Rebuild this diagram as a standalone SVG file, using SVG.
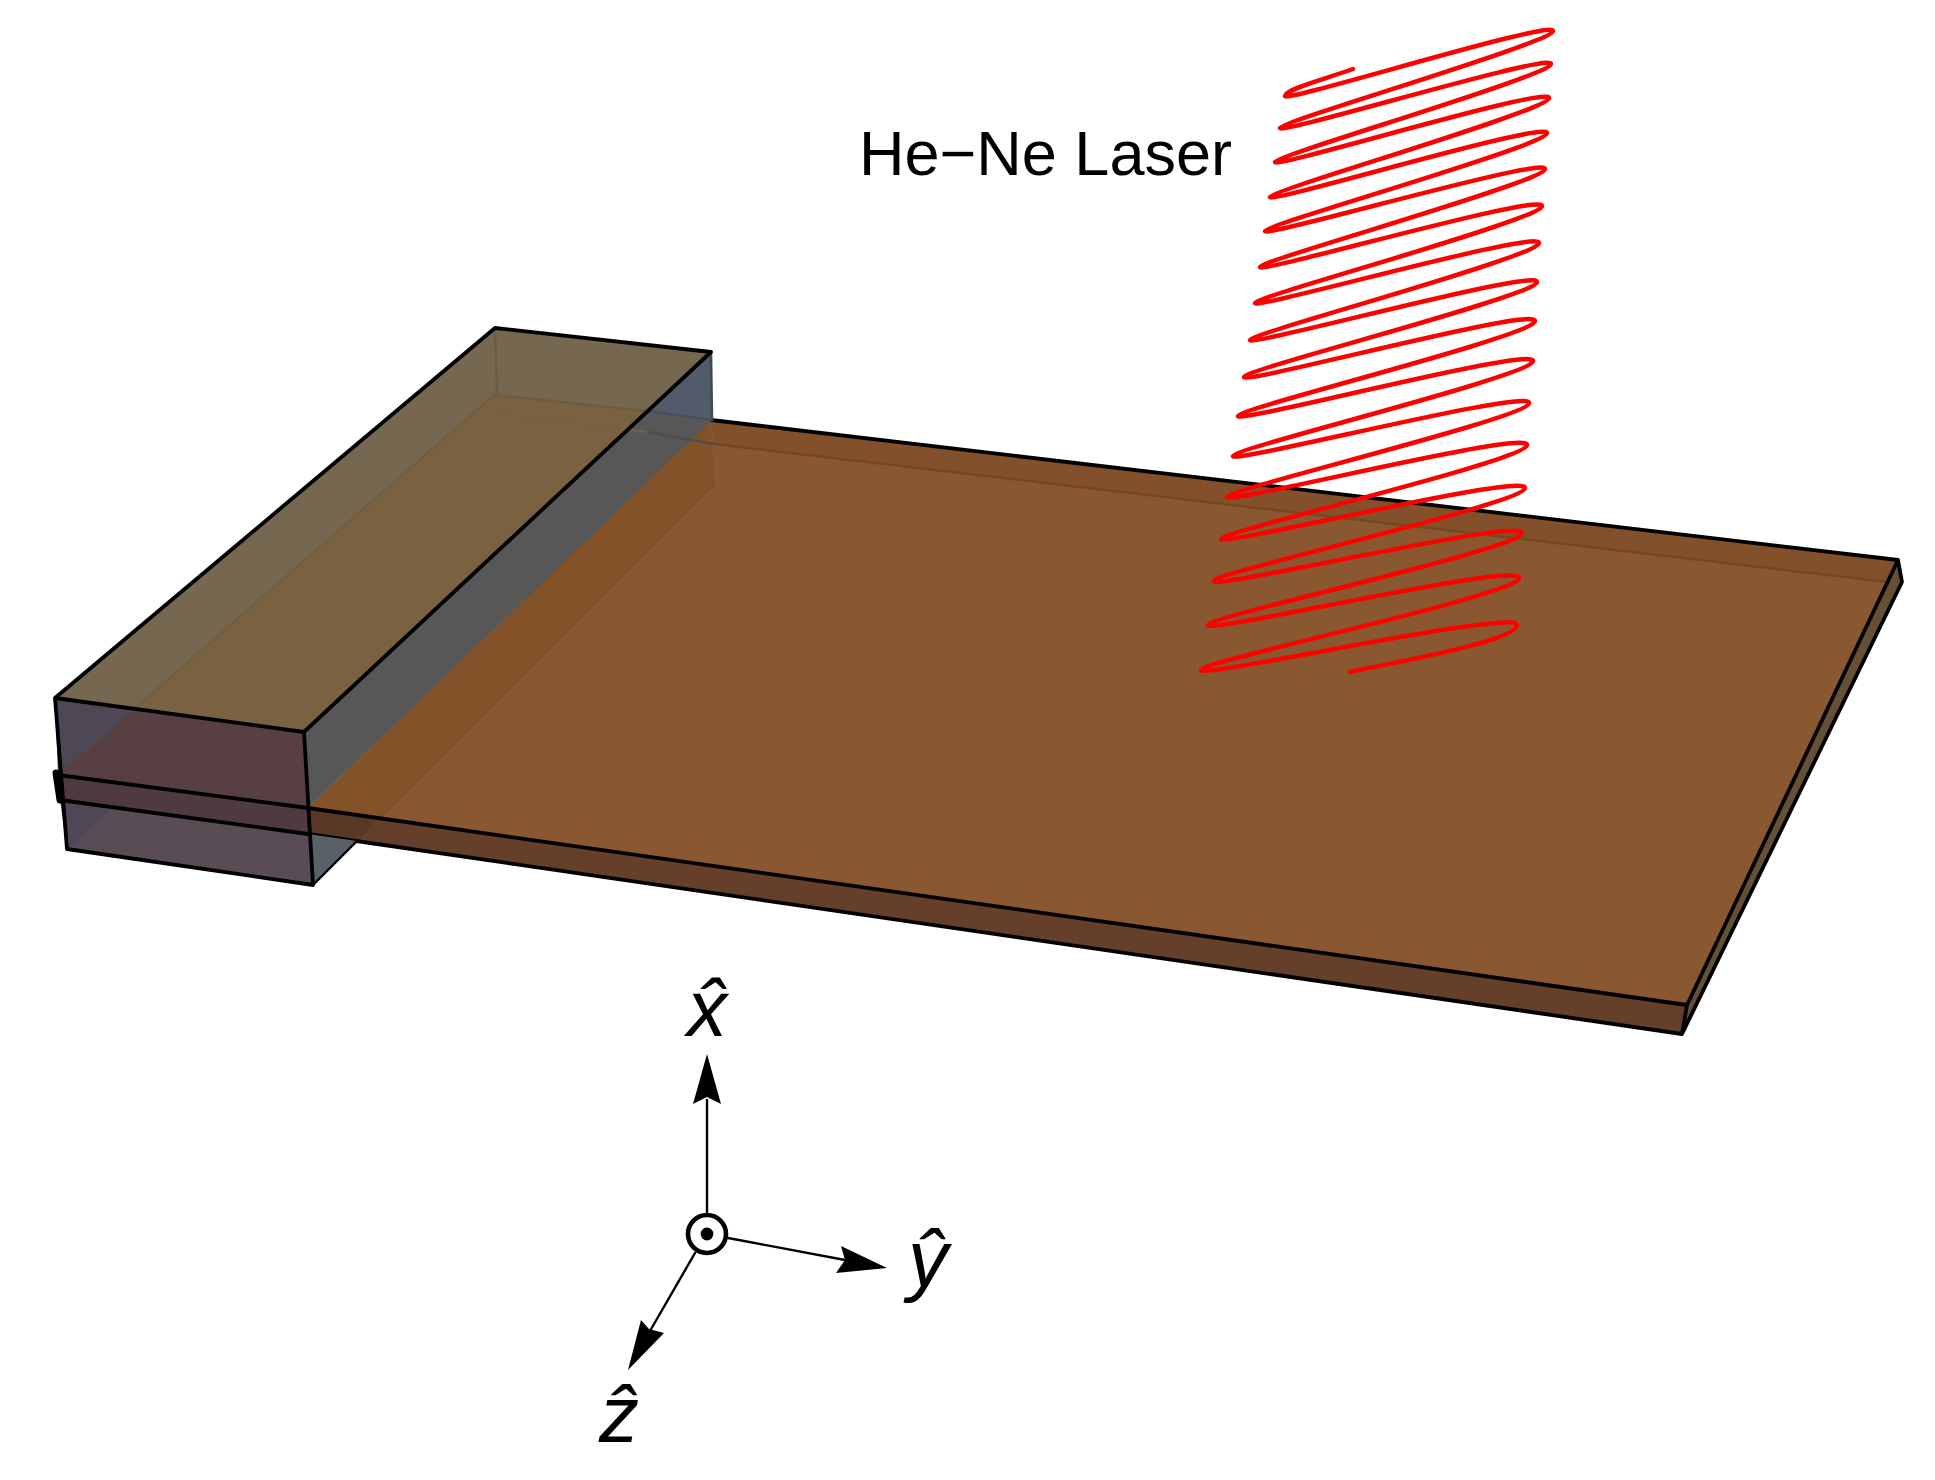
<svg xmlns="http://www.w3.org/2000/svg" width="1935" height="1480" viewBox="0 0 1935 1480">
<style>
.edge{fill:none;stroke:#000;stroke-width:3.8;stroke-linejoin:round;stroke-linecap:round}
.thin{fill:none;stroke:#000;stroke-width:2.4;stroke-linecap:round}
.faint{fill:none;stroke-width:2.5;stroke-linecap:round}
.lab{font-family:"Liberation Sans",Arial,sans-serif;fill:#000}
.hat{font-style:italic;font-size:80px}
</style>
<rect width="1935" height="1480" fill="#fff"/>
<g id="plate">
<polygon points="711,420 1898,560 1687,1005 308,808" fill="#8a5830"/>
<polygon points="711,420 1898,560 1887,582 714,444" fill="#82512c"/>
<polygon points="711,420 714,484 380,818 308,808" fill="#835228"/>
<polygon points="308,808 1687,1005 1682,1034 308,834" fill="#653f2a"/>
<polygon points="308,808 380,818 357,841 308,834" fill="#5a3826"/>
<polygon points="1687,1005 1898,560 1902,582 1682,1034" fill="#655036"/>
<path class="faint" stroke="#74491f" d="M714 444L1887 582"/>
<path class="faint" stroke="#7f5027" d="M714 484L380 818"/>
<path class="edge" d="M711 420L1898 560L1687 1005L308 808M308 834L1682 1034L1902 582L1898 560M1687 1005L1682 1034"/>
</g>
<g id="box">
<polygon points="495,328 711,352 304,732 55,698" fill="#766850"/>
<polygon points="494,395 648,411 304,732 133,710" fill="#7a6240"/>
<polygon points="711,352 712,420 308,808 304,732" fill="#575757"/>
<polygon points="711,352 712,420 648,411" fill="#515b6a"/>
<polygon points="308,834 357,841 313,885" fill="#5a6068"/>
<polygon points="55,698 304,732 313,885 67,849" fill="#5a4c55"/>
<polygon points="133,710 304,732 308,808 58,775" fill="#584042"/>
<polygon points="55,698 133,710 58,775" fill="#4e4756"/>
<polygon points="58,775 308,808 308,834 60,800" fill="#4f3a40"/>
<polygon points="60,800 110,807 67,849" fill="#4e4756"/>
<path class="faint" stroke="#6b5d48" d="M495 328L497 395"/>
<path class="faint" stroke="#6d5c42" d="M494 395L648 411"/>
<path class="faint" stroke="#75633f" d="M497 414L648 432"/>
<path class="faint" stroke="#705f42" d="M494 395L133 710"/>
<path class="faint" stroke="#46505e" d="M648 411L712 420"/>
<path class="faint" stroke="#4e4e4e" d="M648 432L714 444"/>
<path class="faint" stroke="#4a4858" d="M110 807L67 849"/>
<path class="faint" stroke="#3e4a5a" d="M711 352L712 420"/>
<path class="edge" d="M55 698L495 328L711 352L304 732L55 698L67 849L313 885L304 732"/>
<path class="edge" d="M58 775L308 808M60 800L308 834"/>
<path class="thin" d="M313 885L357 841"/>
<path d="M56 773L60 800" fill="none" stroke="#000" stroke-width="7" stroke-linecap="round"/>
</g>
<g id="laser">
<path fill="none" stroke="#f00" stroke-width="4.5" stroke-linejoin="round" stroke-linecap="round" d="M1353 69C1322 80 1286 89 1285 96S1554 19 1553 31S1281 121 1280 128S1552 52 1551 64S1276 155 1275 162S1550 85 1549 98S1271 190 1270 197S1548 120 1547 133S1266 224 1265 231S1546 156 1545 169S1261 260 1260 267S1543 192 1542 206S1256 296 1255 303S1540 229 1539 243S1251 333 1250 340S1538 268 1537 282S1245 369 1244 377S1536 306 1535 321S1239 408 1238 416S1534 346 1533 361S1234 448 1233 456S1530 388 1529 403S1228 489 1227 497S1528 429 1527 445S1222 531 1221 539S1526 472 1525 488S1215 572 1214 581S1523 517 1522 533S1209 616 1208 625S1520 561 1519 578S1202 661 1201 670S1518 608 1517 625S1380 665 1350 672"/>
<text class="lab" x="859" y="175" font-size="63">He−Ne Laser</text>
</g>
<g id="axes">
<path class="thin" d="M707 1212V1100M728 1238L845 1260M695 1253L650 1331"/>
<polygon points="707,1054 721,1104 707,1097 693,1104" fill="#000"/>
<polygon points="887,1268 841,1246 845,1260 836,1273" fill="#000"/>
<polygon points="628,1370 641,1320 649,1329 664,1333" fill="#000"/>
<circle cx="707" cy="1234" r="19" fill="none" stroke="#000" stroke-width="4.6"/>
<circle cx="707" cy="1234" r="6.4" fill="#000"/>
<text class="lab hat" x="687" y="1036">x̂</text>
<text class="lab hat" x="908" y="1286">ŷ</text>
<text class="lab hat" x="599" y="1442">ẑ</text>
</g>
</svg>
